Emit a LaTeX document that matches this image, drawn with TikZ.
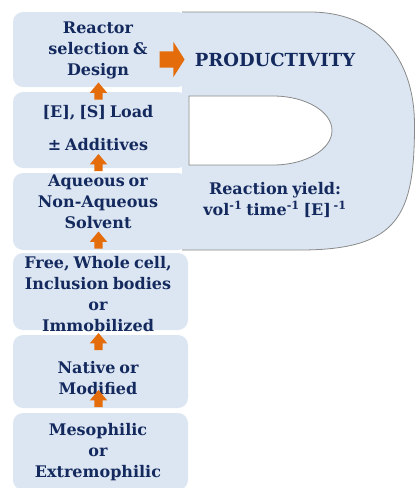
\documentclass[tikz,border=0pt]{standalone}
\usepackage{fontspec}
\setmainfont[WordSpace=0.7]{DejaVu Serif}
\usetikzlibrary{shapes.arrows}
\definecolor{panel}{HTML}{DCE6F2}
\definecolor{ink}{HTML}{142A5E}
\definecolor{accent}{HTML}{E46C0A}
\definecolor{rim}{HTML}{8A8A8A}
\begin{document}
\begin{tikzpicture}[x=1pt,y=-1pt,
  stage/.style={fill=panel, draw=none, rounded corners=10pt, minimum width=175pt, inner sep=0pt},
  label/.style={text=ink, font=\bfseries\fontsize{16}{21}\selectfont, align=center, inner sep=0pt},
  biglabel/.style={text=ink, font=\bfseries\fontsize{18}{21}\selectfont, align=center, inner sep=0pt},
  uparrow/.style={single arrow, fill=accent, draw=none, rotate=90,
    minimum height=17pt, single arrow head extend=4.5pt,
    single arrow tip angle=80, inner xsep=0pt, inner ysep=4pt},
  rightarrow/.style={single arrow, fill=accent, draw=none,
    minimum height=25pt, single arrow head extend=9.5pt,
    single arrow tip angle=115, inner xsep=0pt, inner ysep=8pt}
]
\useasboundingbox (0,0) rectangle (416,488);

% the "P" with its bowl opening
\path[fill=panel, even odd rule]
  (182,12) -- (310,12) .. controls (374,12) and (414.5,55) .. (414.5,125)
  .. controls (414.5,215) and (399,250) .. (300,250) -- (182,250) -- cycle
  (189,96) -- (273,96) .. controls (305.6,96) and (332,111.5) .. (332,130.5)
  .. controls (332,149.5) and (305.6,165) .. (273,165) -- (189,165) -- cycle;
\draw[rim, line width=0.8pt]
  (182,12) -- (310,12) .. controls (374,12) and (414.5,55) .. (414.5,125)
  .. controls (414.5,215) and (399,250) .. (300,250) -- (182,250);
\draw[rim, line width=0.8pt]
  (189,96) -- (273,96) .. controls (305.6,96) and (332,111.5) .. (332,130.5)
  .. controls (332,149.5) and (305.6,165) .. (273,165) -- (189,165) -- cycle;

% stacked stages
\node[stage, minimum height=75pt] (b1) at (100.5,49.5) {};
\node[stage, minimum height=76pt] (b2) at (100.5,130) {};
\node[stage, minimum height=77pt] (b3) at (100.5,211.5) {};
\node[stage, minimum height=77pt] (b4) at (100.5,291.5) {};
\node[stage, minimum height=73pt] (b5) at (100.5,371.5) {};
\node[stage, minimum height=77pt] (b6) at (100.5,451.5) {};

% stage texts
\node[label] (t1) at (98,50) {Reactor\\selection \&\\Design};
\node[label] (t2a) at (98,113) {[E], [S] Load};
\node[label] (t2b) at (98,145) {± Additives};
\node[label] (t3) at (98,201.5) {Aqueous or\\Non-Aqueous\\Solvent};
\node[label] (t4) at (98,294) {Free, Whole cell,\\Inclusion bodies\\or\\Immobilized};
\node[label] (t5) at (98,378) {Native or\\Modified};
\node[label] (t6) at (98,452) {Mesophilic\\or\\Extremophilic};

% upward steps
\node[uparrow] (a1) at (98.5,93.5) {};
\node[uparrow] (a2) at (98.5,165) {};
\node[uparrow] (a3) at (98.5,242.5) {};
\node[uparrow] (a4) at (98.5,344) {};
\node[uparrow] (a5) at (98.5,401) {};

% outcome
\node[rightarrow] (ar) at (169.5,59.5) {};
\node[biglabel] (prod) at (275,60) {PRODUCTIVITY};
\node[label] (yield) at (275,200) {Reaction yield:\\vol\textsuperscript{-1} time\textsuperscript{-1} [E]\,\textsuperscript{-1}};
\end{tikzpicture}
\end{document}
